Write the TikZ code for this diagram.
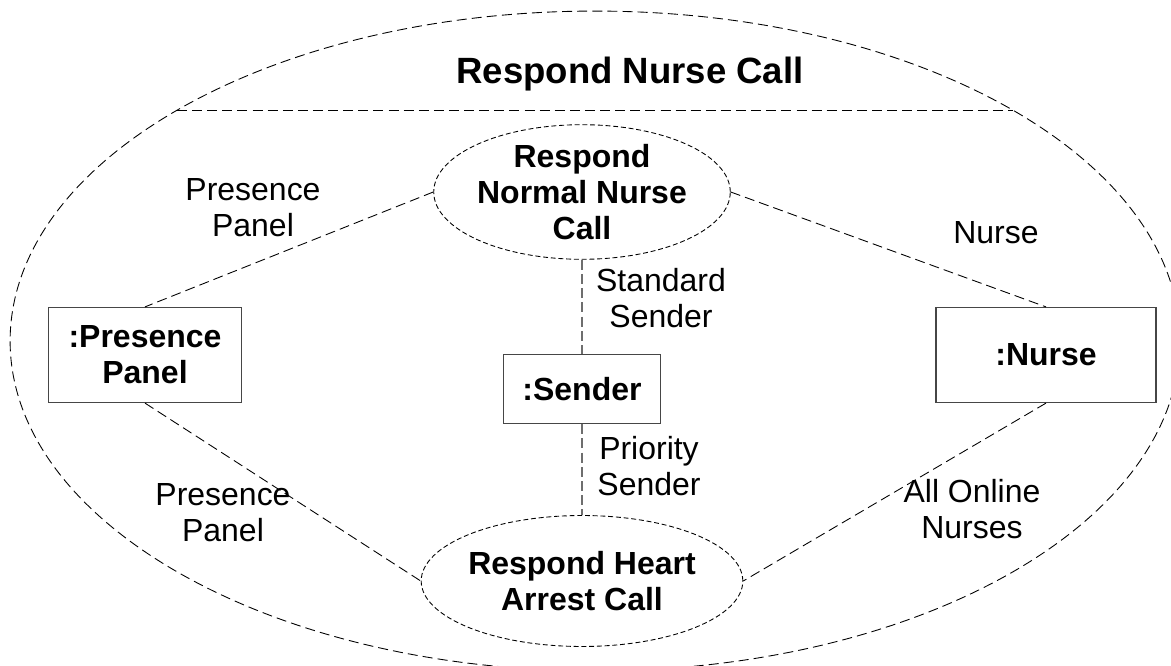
\documentclass[tikz,border=0pt]{standalone}
\usepackage{fontspec}
\setmainfont{Liberation Sans}
\usetikzlibrary{shapes.geometric}
\definecolor{mygray}{RGB}{110,110,110}
\definecolor{myline}{RGB}{70,70,70}

\begin{document}
\begin{tikzpicture}[x=0.02cm,y=-0.02cm,
  every node/.style={align=center,inner sep=0pt,font=\fontsize{18.2}{20.4}\selectfont},
  ucnode/.style={ellipse,draw,line width=0.5pt,dash pattern=on 2.8pt off 1.6pt,
    font=\fontsize{18.2}{20.4}\selectfont\bfseries},
  objnode/.style={rectangle,draw=myline,line width=0.7pt,
    font=\fontsize{18.2}{20.4}\selectfont\bfseries},
  rolelabel/.style={},
  link/.style={line width=0.5pt,dash pattern=on 5.7pt off 2.9pt},
  slink/.style={mygray,line width=1.1pt,dash pattern=on 5.7pt off 2.4pt}
]
\useasboundingbox (0,0) rectangle (1171,666);

% the collaboration
\draw[link] (595,341) ellipse [x radius=11.7cm, y radius=6.6cm];
\coordinate (sepl) at (177,110);
\coordinate (sepr) at (1013,110);
\draw[link] (sepl) -- (sepr);
\node (title) at (630,74) {\fontsize{20.8}{23}\selectfont\bfseries Respond Nurse Call};

% the use cases
\node[ucnode,minimum width=5.04cm,minimum height=2.6cm] (normal) at (582,192)
  {Respond\\Normal Nurse\\Call};
\node[ucnode,minimum width=5.24cm,minimum height=2.62cm] (heart) at (582,581)
  {Respond Heart\\Arrest Call};

% the objects
\node[objnode,minimum width=3.86cm,minimum height=1.9cm] (panel) at (145,355) {:Presence\\Panel};
\node[objnode,minimum width=3.14cm,minimum height=1.38cm] (sender) at (582,389) {:Sender};
\node[objnode,minimum width=4.4cm,minimum height=1.9cm] (nurse) at (1046,355) {:Nurse};

% the roles
\node[rolelabel] (r1) at (253,208) {Presence\\Panel};
\node[rolelabel] (r2) at (996,233) {Nurse};
\node[rolelabel] (r3) at (661,298) {Standard\\Sender};
\node[rolelabel] (r4) at (649,466) {Priority\\Sender};
\node[rolelabel] (r5) at (223,513) {Presence\\Panel};
\node[rolelabel] (r6) at (972,509) {All Online\\Nurses};

% the edges
\draw[link] (normal.west) -- (panel.north);
\draw[link] (normal.east) -- (nurse.north);
\draw[link] (panel.south) -- (heart.west);
\draw[link] (nurse.south) -- (heart.east);
\draw[slink] (normal.south) -- (sender.north);
\draw[slink] (sender.south) -- (heart.north);
\end{tikzpicture}
\end{document}
